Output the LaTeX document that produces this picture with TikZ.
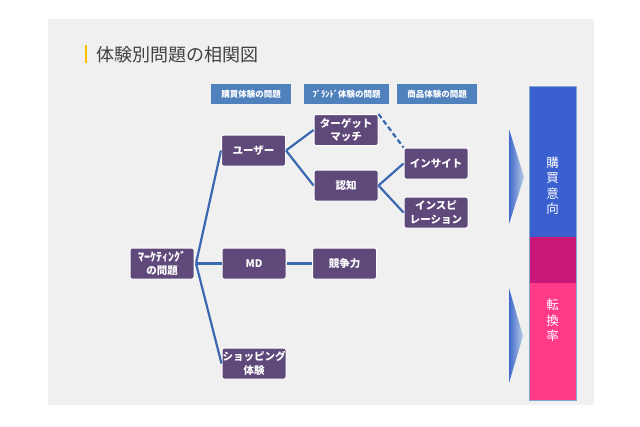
\documentclass[tikz,border=0pt]{standalone}
\usepackage{fontspec}
\newfontfamily\jp{Noto Sans CJK JP}
\usetikzlibrary{shapes.geometric}
\definecolor{bgc}{HTML}{F0F0F0}
\definecolor{hdr}{HTML}{4F81BD}
\definecolor{purp}{HTML}{5F497A}
\definecolor{lnc}{HTML}{3A68B0}
\definecolor{barblue}{HTML}{3A5FCF}
\definecolor{barmag}{HTML}{C8197A}
\definecolor{barpink}{HTML}{FF3A86}
\definecolor{ttl}{HTML}{404040}
\definecolor{ylw}{HTML}{FFC000}
\tikzset{
  hdrbox/.style={fill=hdr, text=white, minimum width=80pt, minimum height=20pt, inner sep=0pt, font=\jp\bfseries\fontsize{8.5}{10}\selectfont},
  pbox/.style={fill=purp, draw=white, line width=1pt, rounded corners=2pt, text=white, minimum width=64pt, minimum height=31pt, inner sep=0pt, align=center, font=\jp\bfseries\fontsize{10.5}{13.5}\selectfont},
  conn/.style={draw=lnc, line width=2.2pt},
  bartext/.style={text=white, align=center, font=\jp\fontsize{12.5}{15.5}\selectfont},
  tri/.style={left color=hdr!80!blue, right color=hdr!40!white, draw=none}
}
\begin{document}
\begin{tikzpicture}[x=1pt,y=-1pt]
\path[use as bounding box] (0,0) rectangle (640,426);
\fill[bgc] (47.5,19) rectangle (594,404.5);
% title
\fill[ylw] (85,45) rectangle (87,63);
\node[anchor=west, text=ttl, font=\jp\fontsize{18}{20}\selectfont, inner sep=0pt] (title) at (96,54.5) {体験別問題の相関図};
% headers
\node[hdrbox] (h1) at (251,94) {購買体験の問題};
\node[hdrbox, minimum width=85pt] (h2) at (346.5,94) {ﾌﾞﾗﾝﾄﾞ体験の問題};
\node[hdrbox] (h3) at (437,94) {商品体験の問題};
% connectors (drawn first, behind boxes)
\coordinate (mkr) at (196,263.5);
\node[pbox] (mk) at (162,263.5) {\fontsize{12}{13}\selectfont ﾏｰｹﾃｨﾝｸﾞ\\の問題};
\node[pbox] (user) at (253.5,150.5) {ユーザー};
\node[pbox] (md) at (254,263.5) {\bfseries MD};
\node[pbox] (shop) at (254,363.5) {ショッピング\\体験};
\node[pbox] (tgt) at (346,130) {ターゲット\\マッチ};
\node[pbox] (nin) at (346,185.5) {認知};
\node[pbox] (kyo) at (344.5,263.5) {競争力};
\node[pbox] (ins) at (436,163.5) {インサイト};
\node[pbox] (insp) at (436,212.5) {インスピ\\レーション};
\draw[conn] (mkr) -- (user.west);
\draw[conn] (mkr) -- (md.west);
\draw[conn] (mkr) -- (shop.west);
\draw[conn] (user.east) -- (tgt.west);
\draw[conn] (user.east) -- (nin.west);
\draw[conn] (nin.east) -- (ins.west);
\draw[conn] (nin.east) -- (insp.west);
\draw[conn] (md.east) -- (kyo.west);
\draw[conn, dashed, dash pattern=on 5pt off 3pt] (tgt.north east) -- (ins.north west);
% right bar
\fill[barblue] (529.5,86) rectangle (576,237);
\fill[barmag] (529.5,237) rectangle (576,283);
\fill[barpink] (529.5,283) rectangle (576,400.5);
\draw[hdr!70!white, line width=0.8pt] (529.5,86) rectangle (576,400.5);
\node[bartext] (t1) at (552.5,186) {購\\買\\意\\向};
\node[bartext] (t2) at (552.5,320.5) {転\\換\\率};
% arrows
\shade[tri] (509,129) -- (524,177) -- (509,224) -- cycle;
\shade[tri] (509,288) -- (523,336) -- (509,383) -- cycle;
\end{tikzpicture}
\end{document}
